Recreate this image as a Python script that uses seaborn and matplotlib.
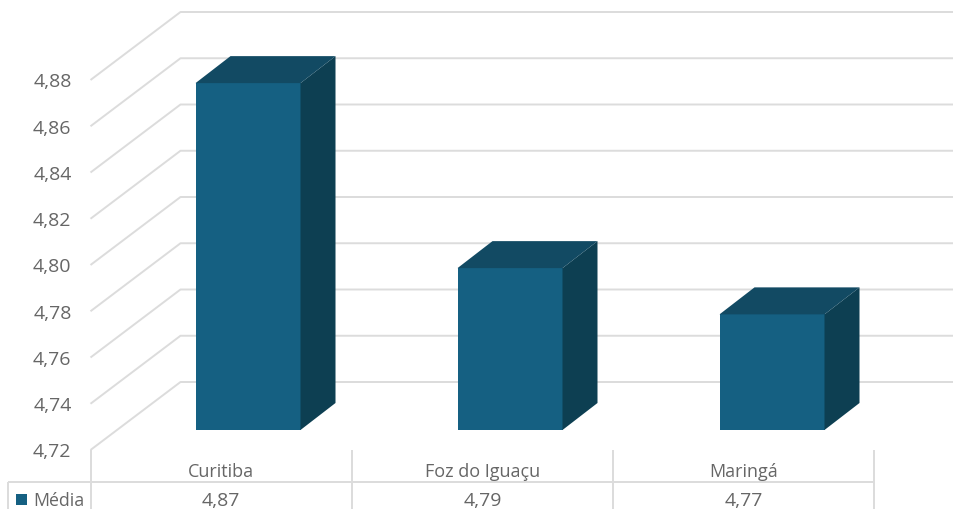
import seaborn as sns
import matplotlib.pyplot as plt
import numpy as np
from matplotlib.patches import Polygon, Rectangle

categorias = ['Curitiba', 'Foz do Iguaçu', 'Maringá']
medias = [4.87, 4.79, 4.77]
medias_txt = ['4,87', '4,79', '4,77']
serie = 'Média'
ticks = [4.72, 4.74, 4.76, 4.78, 4.80, 4.82, 4.84, 4.86, 4.88]
ticks_txt = ['4,72', '4,74', '4,76', '4,78', '4,80', '4,82', '4,84', '4,86', '4,88']

azul = '#156082'
azul_lado = '#0D3F52'
azul_topo = '#124A63'
cinza = '#DCDCDC'
texto = '#666666'

W, H = 954, 510
PX_X = 262.0      # pixels por categoria
PX_Y = 46.25 / 0.02  # pixels por unidade
BASE = ticks[0]
PISO = 431  # linha de pixels da base das barras

plt.rcParams['font.family'] = ['Open Sans', 'DejaVu Sans']
fig = plt.figure(figsize=(W / 100, H / 100), dpi=100)
# os eixos terminam na base das barras, que assim ficam cortadas em 4,72
ax = fig.add_axes([0, (H - PISO) / H, 1, PISO / H])

sns.barplot(x=categorias, y=medias, color=azul, saturation=1, width=105 / PX_X, ax=ax)
ax.set_xlim(-248 / PX_X, (W - 248) / PX_X)
ax.set_ylim(BASE, BASE + PISO / PX_Y)
ax.axis('off')


def dx(px):
    return px / PX_X


def dy(px):
    return px / PX_Y


def linha(xs, ys):
    ax.plot(xs, ys, color=cinza, lw=1.4, clip_on=False, zorder=0.5, solid_capstyle='butt')


# planos: frente (eixo) e fundo (parede)
frente_x = -0.5 - dx(26.5)
fim_x = frente_x + 3 * 261.33 / PX_X
frente_y = -dy(20)
fundo_dx, fundo_dy = dx(90), dy(68)

for t, s in zip(ticks, ticks_txt):
    y0 = t + frente_y
    linha([frente_x, frente_x + fundo_dx, fim_x + fundo_dx], [y0, y0 + fundo_dy, y0 + fundo_dy])
    ax.text(frente_x - dx(19), y0 - dy(1.5), s, ha='right', va='center', fontsize=14, color=texto, clip_on=False)

# barras 3D a partir das barras do seaborn
prof_x, prof_y = dx(35), dy(27)
for p in ax.patches:
    x0 = p.get_x()
    x1 = x0 + p.get_width()
    topo = p.get_height()
    ax.add_patch(Polygon([(x1, BASE), (x1 + prof_x, BASE + prof_y), (x1 + prof_x, topo + prof_y), (x1, topo)],
                         closed=True, fc=azul_lado, ec='none', zorder=2))
    ax.add_patch(Polygon([(x0, topo), (x1, topo), (x1 + prof_x, topo + prof_y), (x0 + prof_x, topo + prof_y)],
                         closed=True, fc=azul_topo, ec='none', zorder=2))

# tabela de dados
y_topo = BASE + frente_y
y_meio = BASE - dy(52)
y_fim = BASE - dy(80)
y_cat = BASE - dy(41)
y_val = BASE - dy(69)
larg = 261.33 / PX_X
for i in range(len(categorias) + 1):
    linha([frente_x + i * larg] * 2, [y_topo, y_fim])
x_tab = frente_x - dx(82)
linha([x_tab, fim_x], [y_meio, y_meio])
linha([x_tab, x_tab], [y_meio, y_fim])

for i, (c, v) in enumerate(zip(categorias, medias_txt)):
    xc = frente_x + (i + 0.5) * larg
    ax.text(xc, y_cat, c, ha='center', va='center', fontsize=13, color=texto, clip_on=False)
    ax.text(xc, y_val - dy(1), v, ha='center', va='center', fontsize=14, color=texto, clip_on=False)

ax.add_patch(Rectangle((x_tab + dx(8), y_val - dy(5.5)), dx(11), dy(11), fc=azul, ec='none', clip_on=False))
ax.text(x_tab + dx(25), y_val - dy(1), serie, ha='left', va='center', fontsize=12.8, color=texto, clip_on=False)

fig.savefig('out.png', dpi=100)
